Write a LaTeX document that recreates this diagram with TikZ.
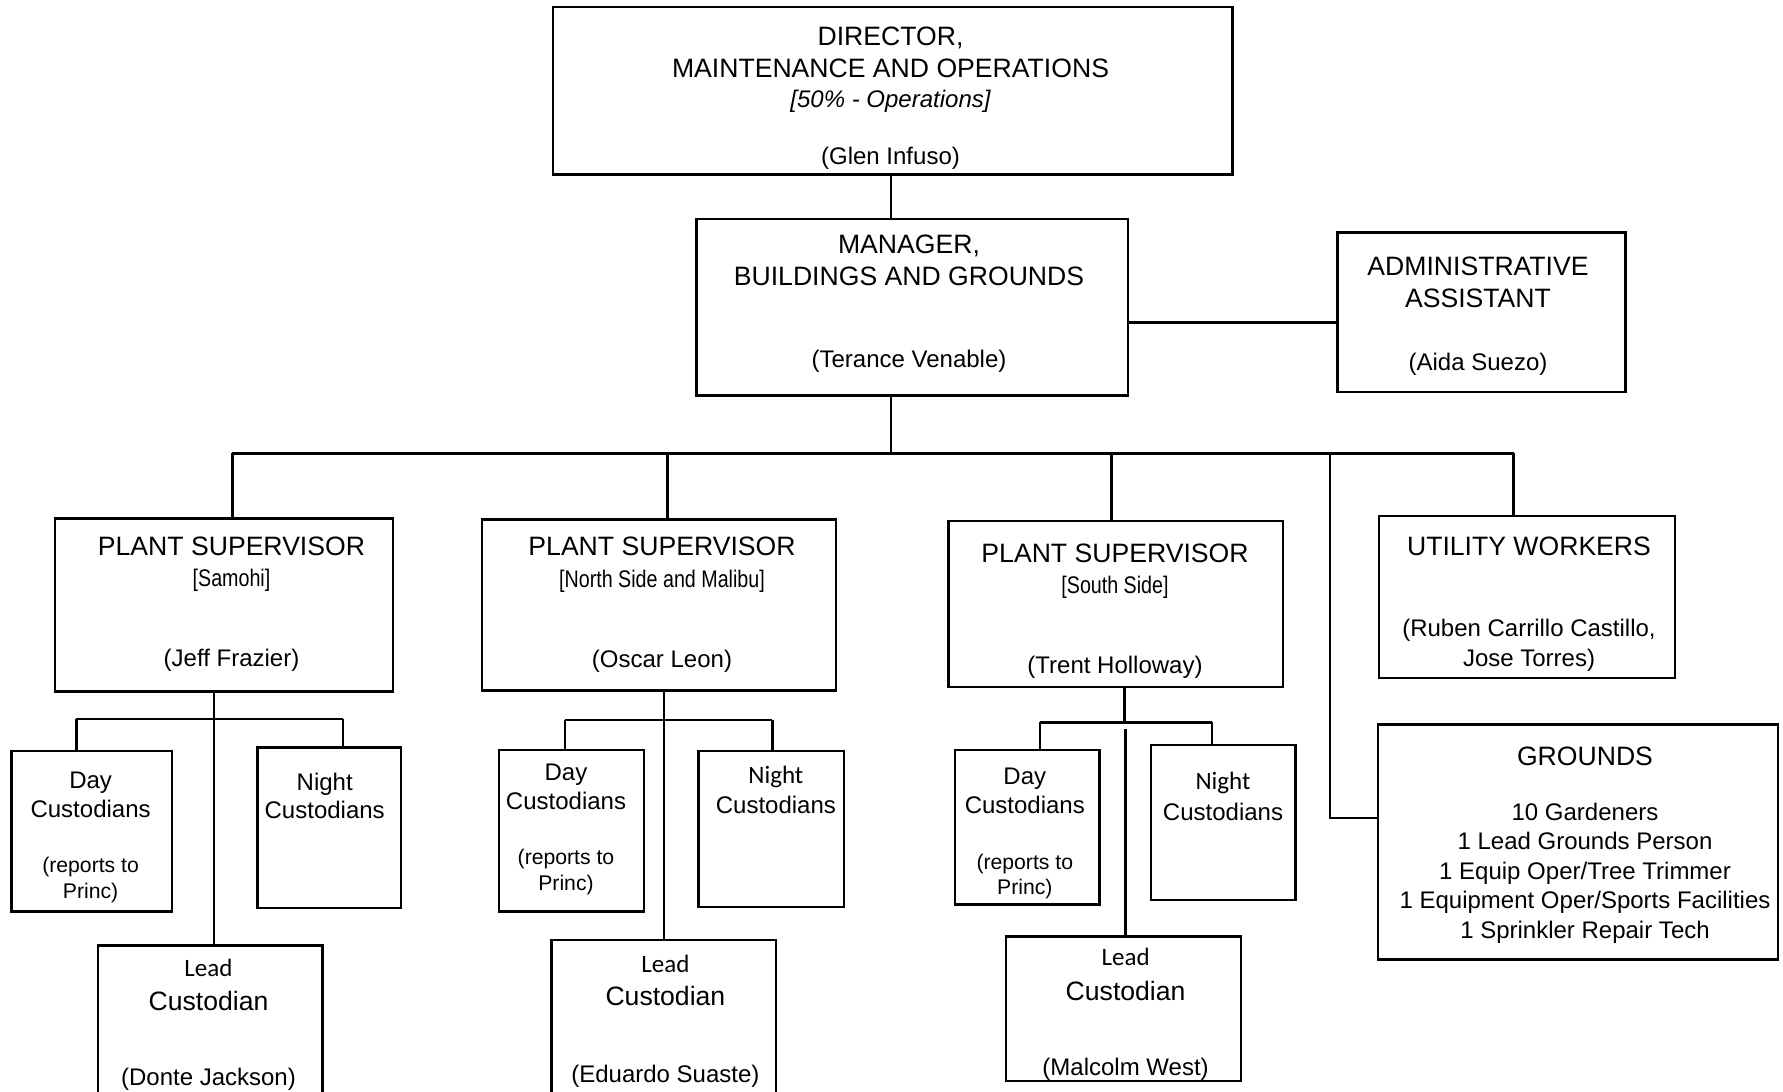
\documentclass[tikz,border=0pt]{standalone}
\usepackage{fontspec}
\setmainfont{Liberation Sans}
\newfontfamily\narrowfont[FakeStretch=0.82]{Liberation Sans}
\newfontfamily\calfont{Carlito}
\usetikzlibrary{fit}
\begin{document}
\begin{tikzpicture}[x=0.5pt,y=-0.5pt,
 box/.style={draw, line width=1.2pt, inner sep=0pt},
 conn/.style={line width=1.2pt},
 tx/.style={inner sep=0pt, text height=8.8pt, text depth=0pt, anchor=center},
 big/.style={tx, font=\fontsize{13.3}{16}\selectfont},
 nm/.style={tx, font=\fontsize{12}{14}\selectfont},
 itl/.style={tx, font=\fontsize{12}{14}\selectfont\itshape},
 brk/.style={tx, font=\fontsize{12}{14}\selectfont\narrowfont},
 sm/.style={tx, font=\fontsize{10.6}{13}\selectfont},
 cal/.style={tx, font=\fontsize{12.5}{15}\selectfont\calfont},
]
\useasboundingbox (0,0) rectangle (1783,1092);
\fill[white] (0,0) rectangle (1783,1092);

% boxes
\node[box, fit={(553.0,6.8) (1232.5,174.3)}] (dir) {};
\node[box, fit={(696.5,218.7) (1128.0,395.3)}] (mgr) {};
\node[box, fit={(1337.5,232.4) (1625.5,391.9)}] (adm) {};
\node[box, fit={(54.7,518.4) (393.1,691.6)}] (ps1) {};
\node[box, fit={(481.9,519.5) (836.2,690.4)}] (ps2) {};
\node[box, fit={(948.5,520.7) (1283.0,687.0)}] (ps3) {};
\node[box, fit={(1379.0,516.1) (1675.0,677.9)}] (utl) {};
\node[box, fit={(1378.0,724.6) (1777.8,959.3)}] (grd) {};
\node[box, fit={(11.4,750.8) (172.0,911.4)}] (day1) {};
\node[box, fit={(257.5,747.4) (401.0,908.0)}] (ngt1) {};
\node[box, fit={(98.0,945.6) (322.4,1110)}] (lead1) {};
\node[box, fit={(499.0,749.7) (643.7,911.4)}] (day2) {};
\node[box, fit={(698.4,750.8) (844.2,906.9)}] (ngt2) {};
\node[box, fit={(551.4,939.9) (775.9,1110)}] (lead2) {};
\node[box, fit={(954.7,749.7) (1099.4,904.6)}] (day3) {};
\node[box, fit={(1150.7,745.1) (1295.4,900.0)}] (ngt3) {};
\node[box, fit={(1006.0,936.5) (1240.7,1081.2)}] (lead3) {};

% junction coordinates
\coordinate (c0) at (891,453.4);
\coordinate (ma) at (1128,322.4);
\coordinate (bL) at (232.4,453.4);
\coordinate (bR) at (1513.5,453.4);
\coordinate (b2) at (667.6,453.4);
\coordinate (b3) at (1111.5,453.4);
\coordinate (b4) at (1330.2,453.4);
\coordinate (g1) at (1330.2,818);
\coordinate (s1) at (214.2,700);
\coordinate (h1L) at (76.3,718.9);
\coordinate (h1R) at (342.9,718.9);
\coordinate (s2) at (664.2,700);
\coordinate (h2L) at (565.1,720);
\coordinate (h2R) at (772.4,720);
\coordinate (s3) at (1124.5,722.3);
\coordinate (h3L) at (1040.2,722.3);
\coordinate (h3R) at (1212.2,722.3);
\coordinate (s3b) at (1125.6,729.2);

% connectors
\draw[conn] (dir.south -| c0) -- (mgr.north -| c0);
\draw[conn] (mgr.south -| c0) -- (c0);
\draw[conn] (mgr.east |- ma) -- (adm.west |- ma);
\draw[conn] (bL) -- (bR);
\draw[conn] (bL) -- (ps1.north -| bL);
\draw[conn] (b2) -- (ps2.north -| b2);
\draw[conn] (b3) -- (ps3.north -| b3);
\draw[conn] (bR) -- (utl.north -| bR);
\draw[conn] (b4) -- (g1) -- (grd.west |- g1);

\draw[conn] (ps1.south -| s1) -- (lead1.north -| s1);
\draw[conn] (h1L) -- (h1R);
\draw[conn] (h1L) -- (day1.north -| h1L);
\draw[conn] (h1R) -- (ngt1.north -| h1R);

\draw[conn] (ps2.south -| s2) -- (lead2.north -| s2);
\draw[conn] (h2L) -- (h2R);
\draw[conn] (h2L) -- (day2.north -| h2L);
\draw[conn] (h2R) -- (ngt2.north -| h2R);

\draw[conn] (ps3.south -| s3) -- (s3);
\draw[conn] (h3L) -- (h3R);
\draw[conn] (h3L) -- (day3.north -| h3L);
\draw[conn] (h3R) -- (ngt3.north -| h3R);
\draw[conn] (s3b) -- (lead3.north -| s3b);

% texts
\node[big] (dirA) at (890.5,36.5) {DIRECTOR,};
\node[big] (dirB) at (890.5,68.4) {MAINTENANCE AND OPERATIONS};
\node[itl] (dirC) at (890.5,99.1) {[50\% - Operations]};
\node[nm] (dirD) at (890.5,156.1) {(Glen Infuso)};

\node[big] (mgrA) at (909,244.9) {MANAGER,};
\node[big] (mgrB) at (909,276.8) {BUILDINGS AND GROUNDS};
\node[nm] (mgrC) at (909,358.9) {(Terance Venable)};

\node[big] (admA) at (1478,266.6) {ADMINISTRATIVE};
\node[big] (admB) at (1478,298.5) {ASSISTANT};
\node[nm] (admC) at (1478,361.2) {(Aida Suezo)};

\node[big] (ps1A) at (231.5,546.9) {PLANT SUPERVISOR};
\node[brk] (ps1B) at (231.5,577.6) {[Samohi]};
\node[nm] (ps1C) at (231.5,657.4) {(Jeff Frazier)};

\node[big] (ps2A) at (662,546.9) {PLANT SUPERVISOR};
\node[brk] (ps2B) at (662,578.8) {[North Side and Malibu]};
\node[nm] (ps2C) at (662,658.5) {(Oscar Leon)};

\node[big] (ps3A) at (1115,553.7) {PLANT SUPERVISOR};
\node[brk] (ps3B) at (1115,584.5) {[South Side]};
\node[nm] (ps3C) at (1115,664.2) {(Trent Holloway)};

\node[big] (utlA) at (1529,546.9) {UTILITY WORKERS};
\node[nm] (utlB) at (1529,627.8) {(Ruben Carrillo Castillo,};
\node[nm] (utlC) at (1529,657.4) {Jose Torres)};

\node[big] (grdA) at (1585,756.5) {GROUNDS};
\node[nm] (grdB) at (1585,811.2) {10 Gardeners};
\node[nm] (grdC) at (1585,840.8) {1 Lead Grounds Person};
\node[nm] (grdD) at (1585,870.4) {1 Equip Oper/Tree Trimmer};
\node[nm] (grdE) at (1585,900.0) {1 Equipment Oper/Sports Facilities};
\node[nm] (grdF) at (1585,929.7) {1 Sprinkler Repair Tech};

\node[nm] (day1A) at (90.6,779.3) {Day};
\node[nm] (day1B) at (90.6,808.9) {Custodians};
\node[sm] (day1C) at (90.6,863.6) {(reports to};
\node[sm] (day1D) at (90.6,889.8) {Princ)};
\node[nm] (ngt1A) at (324.7,781.6) {Night};
\node[nm] (ngt1B) at (324.7,810.0) {Custodians};
\node[cal] (lead1A) at (208.5,967.3) {Lead};
\node[big] (lead1B) at (208.5,1001.4) {Custodian};
\node[nm] (lead1C) at (208.5,1076.6) {(Donte Jackson)};

\node[nm] (day2A) at (566,771.3) {Day};
\node[nm] (day2B) at (566,800.9) {Custodians};
\node[sm] (day2C) at (566,855.6) {(reports to};
\node[sm] (day2D) at (566,881.8) {Princ)};
\node[cal] (ngt2A) at (775.9,774.7) {Night};
\node[nm] (ngt2B) at (775.9,804.3) {Custodians};
\node[cal] (lead2A) at (665.4,963.8) {Lead};
\node[big] (lead2B) at (665.4,996.9) {Custodian};
\node[nm] (lead2C) at (665.4,1073.2) {(Eduardo Suaste)};

\node[nm] (day3A) at (1024.8,775.9) {Day};
\node[nm] (day3B) at (1024.8,804.3) {Custodians};
\node[sm] (day3C) at (1024.8,860.2) {(reports to};
\node[sm] (day3D) at (1024.8,885.2) {Princ)};
\node[cal] (ngt3A) at (1223,780.4) {Night};
\node[nm] (ngt3B) at (1223,811.2) {Custodians};
\node[cal] (lead3A) at (1125.6,957.0) {Lead};
\node[big] (lead3B) at (1125.6,991.2) {Custodian};
\node[nm] (lead3C) at (1125.6,1066.4) {(Malcolm West)};
\end{tikzpicture}
\end{document}
